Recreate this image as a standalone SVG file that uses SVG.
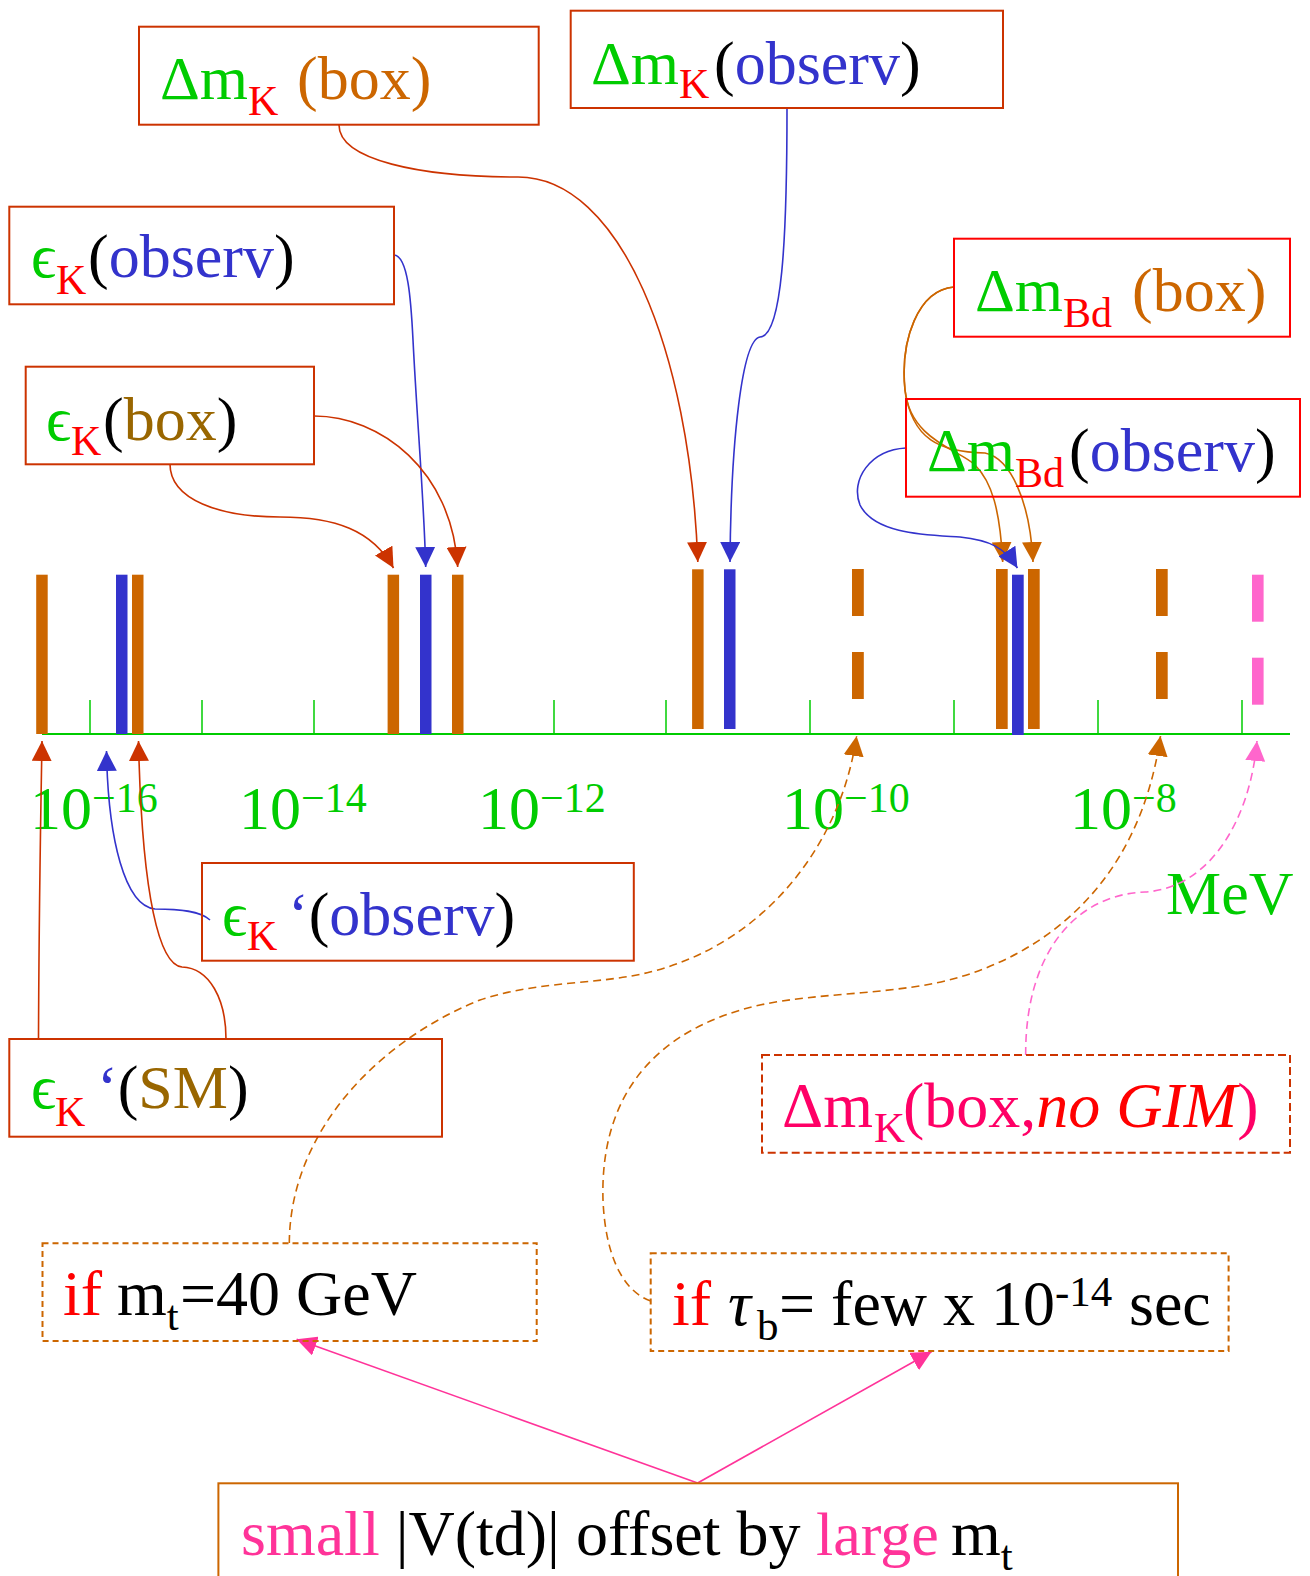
<svg xmlns="http://www.w3.org/2000/svg" width="1310" height="1576" viewBox="0 0 1310 1576">
<style>
text{font-family:"Liberation Serif","DejaVu Serif",serif;font-size:62px}
.s{font-size:42px}
.L{font-size:64px}
.Ls{font-size:43px}
.g{fill:#00cc00}.r{fill:#ff0000}.o{fill:#cc6600}.b{fill:#3333cc}.k{fill:#000}.br{fill:#996600}.pk{fill:#ff3399}.pr{fill:#ff0066}
.box{fill:none;stroke:#cc3300;stroke-width:2}
.boxr{fill:none;stroke:#ff0000;stroke-width:2}
.boxd{fill:none;stroke:#cc3300;stroke-width:2;stroke-dasharray:8 4}
.boxo{fill:none;stroke:#cc6600;stroke-width:2;stroke-dasharray:6 4}
.boxos{fill:none;stroke:#cc6600;stroke-width:2}
.c{fill:none;stroke-width:1.6}
.cr{stroke:#cc3300}.cb{stroke:#3333cc}.co{stroke:#cc6600}.cp{stroke:#ff66cc}.cpk{stroke:#ff3399}
.dash{stroke-dasharray:8 5}
.bo{fill:#cc6600}.bb{fill:#3333cc}.bp{fill:#ff66cc}
</style>
<defs>
<marker id="ar" markerUnits="userSpaceOnUse" viewBox="0 0 20 20" markerWidth="20" markerHeight="20" refX="20" refY="10" orient="auto"><path d="M0,0 L20,10 L0,20 Z" fill="#cc3300"/></marker>
<marker id="ab" markerUnits="userSpaceOnUse" viewBox="0 0 20 20" markerWidth="20" markerHeight="20" refX="20" refY="10" orient="auto"><path d="M0,0 L20,10 L0,20 Z" fill="#3333cc"/></marker>
<marker id="ao" markerUnits="userSpaceOnUse" viewBox="0 0 20 20" markerWidth="20" markerHeight="20" refX="20" refY="10" orient="auto"><path d="M0,0 L20,10 L0,20 Z" fill="#cc6600"/></marker>
<marker id="ap" markerUnits="userSpaceOnUse" viewBox="0 0 20 20" markerWidth="20" markerHeight="20" refX="20" refY="10" orient="auto"><path d="M0,0 L20,10 L0,20 Z" fill="#ff66cc"/></marker>
<marker id="apk" markerUnits="userSpaceOnUse" viewBox="0 0 20 20" markerWidth="20" markerHeight="20" refX="20" refY="10" orient="auto"><path d="M0,0 L20,10 L0,20 Z" fill="#ff3399"/></marker>
</defs>

<g id="axis">
<line x1="42" y1="734" x2="1290" y2="734" stroke="#00cc00" stroke-width="2"/>
<g stroke="#00cc00" stroke-width="1.5">
<line x1="90" y1="700" x2="90" y2="734"/><line x1="202" y1="700" x2="202" y2="734"/><line x1="314" y1="700" x2="314" y2="734"/>
<line x1="554" y1="700" x2="554" y2="734"/><line x1="666" y1="700" x2="666" y2="734"/><line x1="810" y1="700" x2="810" y2="734"/>
<line x1="954" y1="700" x2="954" y2="734"/><line x1="1098" y1="700" x2="1098" y2="734"/><line x1="1242" y1="700" x2="1242" y2="734"/>
</g>
<text class="g" x="30" y="829">10<tspan class="s" dy="-17">−16</tspan></text>
<text class="g" x="239" y="829">10<tspan class="s" dy="-17">−14</tspan></text>
<text class="g" x="478" y="829">10<tspan class="s" dy="-17">−12</tspan></text>
<text class="g" x="782" y="829">10<tspan class="s" dy="-17">−10</tspan></text>
<text class="g" x="1070" y="829">10<tspan class="s" dy="-17">−8</tspan></text>
<text class="g" x="1166" y="914">MeV</text>
</g>

<g id="bars">
<rect class="bo" x="36.2" y="574.7" width="11.5" height="159.3"/>
<rect class="bb" x="116" y="574.7" width="11.5" height="159.3"/>
<rect class="bo" x="132" y="574.7" width="11.5" height="159.3"/>
<rect class="bo" x="387.6" y="574.7" width="11.5" height="159.3"/>
<rect class="bb" x="420" y="574.7" width="11.5" height="159.3"/>
<rect class="bo" x="452" y="574.7" width="11.5" height="159.3"/>
<rect class="bo" x="692.1" y="569.3" width="11.5" height="159.7"/>
<rect class="bb" x="724" y="569.3" width="11.5" height="159.7"/>
<rect class="bo" x="852" y="569" width="11.8" height="47"/>
<rect class="bo" x="852" y="652" width="11.8" height="47"/>
<rect class="bo" x="996" y="569" width="11.7" height="160"/>
<rect class="bb" x="1012" y="574.7" width="11.7" height="160.3"/>
<rect class="bo" x="1028" y="569" width="11.7" height="160"/>
<rect class="bo" x="1156" y="569" width="11.7" height="47"/>
<rect class="bo" x="1156" y="652" width="11.7" height="47"/>
<rect class="bp" x="1252" y="574.7" width="11.6" height="47"/>
<rect class="bp" x="1252" y="657.7" width="11.6" height="47"/>
</g>

<g id="connectors">
<path class="c cr" d="M339,125 C339,160 420,177 518,177 C620,177 690,350 697.8,562" marker-end="url(#ar)"/>
<path class="c cb" d="M787,108 C787,240 782,336 760,337 C742,340 731,440 730,562" marker-end="url(#ab)"/>
<path class="c cb" d="M394,255 C408,256 411,300 413,340 C417,420 424,500 425.7,567" marker-end="url(#ab)"/>
<path class="c cr" d="M314,416 C380,416 452,470 457.7,567" marker-end="url(#ar)"/>
<path class="c cr" d="M170,464 C170,500 220,517 280,517 C335,517 372,530 393.5,568" marker-end="url(#ar)"/>
<path class="c co" d="M954,287 C918,290 900,340 905,390 C910,440 960,450 975,465 C992,482 1000,510 1002.7,562" marker-end="url(#ao)"/>
<path class="c co" d="M954,287 C918,290 900,340 905,390 C912,440 940,452 985,453 C1010,458 1030,500 1033,562" marker-end="url(#ao)"/>
<path class="c cb" d="M906,448 C870,450 850,480 860,505 C875,535 930,535 960,537 C990,540 1005,548 1017.4,568" marker-end="url(#ab)"/>
<path class="c cb" d="M210,920 C200,911 180,909 155,909 C125,906 108,840 106.5,751" marker-end="url(#ab)"/>
<path class="c cr" d="M38.5,1039 C39,900 41,800 42,741" marker-end="url(#ar)"/>
<path class="c cr" d="M226,1039 C226,1000 210,968 182,967 C160,965 142,900 138.5,741" marker-end="url(#ar)"/>
<path class="c cp dash" d="M1025.7,1055 C1025,960 1070,895 1145,892 C1210,888 1250,820 1257,741" marker-end="url(#ap)"/>
<path class="c co dash" d="M289.3,1243 C290,1130 380,1040 480,1000 C540,980 600,985 650,972 C760,945 840,850 856.6,736" marker-end="url(#ao)"/>
<path class="c co dash" d="M650.7,1301 C620,1290 605,1250 603,1200 C600,1100 650,1030 760,1005 C820,992 900,995 960,977 C1050,950 1140,880 1160.5,736" marker-end="url(#ao)"/>
<path class="c cpk" d="M697.6,1483 L296.6,1339.3" marker-end="url(#apk)"/>
<path class="c cpk" d="M697.6,1483 L931.5,1351.7" marker-end="url(#apk)"/>
</g>

<g id="dmK-box">
<rect class="box" x="139" y="26.7" width="399.7" height="98"/>
<text x="160" y="99"><tspan class="g">Δm</tspan><tspan class="s r" y="115">K</tspan><tspan class="o" x="297" y="99">(box)</tspan></text>
</g>
<g id="dmK-observ">
<rect class="box" x="570.7" y="10.7" width="432.3" height="97.3"/>
<text x="591" y="84"><tspan class="g">Δm</tspan><tspan class="s r" y="98">K</tspan><tspan class="k" x="714" y="84">(</tspan><tspan class="b">observ</tspan><tspan class="k">)</tspan></text>
</g>
<g id="epsK-observ">
<rect class="box" x="9.3" y="206.7" width="384.7" height="97.6"/>
<text x="31" y="277"><tspan class="g">ϵ</tspan><tspan class="s r" x="56" y="294">K</tspan><tspan class="k" x="88" y="277">(</tspan><tspan class="b">observ</tspan><tspan class="k">)</tspan></text>
</g>
<g id="epsK-box">
<rect class="box" x="25.7" y="366.7" width="288.3" height="97.6"/>
<text x="46" y="440"><tspan class="g">ϵ</tspan><tspan class="s r" x="71" y="455">K</tspan><tspan class="k" x="103" y="440">(</tspan><tspan class="br">box</tspan><tspan class="k">)</tspan></text>
</g>
<g id="dmBd-box">
<rect class="boxr" x="954" y="238.7" width="336" height="98"/>
<text x="975" y="310.7"><tspan class="g">Δm</tspan><tspan class="s r" y="326.7">Bd</tspan><tspan class="o" x="1132" y="310.7">(box)</tspan></text>
</g>
<g id="dmBd-observ">
<rect class="boxr" x="906" y="399" width="394" height="97.7"/>
<text x="927" y="470.7"><tspan class="g">Δm</tspan><tspan class="s r" y="486.7">Bd</tspan><tspan class="k" x="1069" y="470.7">(</tspan><tspan class="b">observ</tspan><tspan class="k">)</tspan></text>
</g>
<g id="epsKp-observ">
<rect class="box" x="202" y="863" width="431.8" height="97.7"/>
<text x="222" y="935"><tspan class="g">ϵ</tspan><tspan class="s r" x="247" y="950">K</tspan><tspan class="b" x="288" y="935">‘</tspan><tspan class="k">(</tspan><tspan class="b">observ</tspan><tspan class="k">)</tspan></text>
</g>
<g id="epsKp-SM">
<rect class="box" x="9.3" y="1039" width="432.7" height="97.7"/>
<text x="31" y="1108"><tspan class="g">ϵ</tspan><tspan class="s r" x="55" y="1126">K</tspan><tspan class="b" x="97" y="1108">‘</tspan><tspan class="k">(</tspan><tspan class="br">SM</tspan><tspan class="k">)</tspan></text>
</g>
<g id="dmK-noGIM">
<rect class="boxd" x="762" y="1055" width="528" height="97.7"/>
<text class="L" x="782" y="1127"><tspan class="pr">Δm</tspan><tspan class="Ls pr" x="874" y="1142">K</tspan><tspan class="pr" x="903" y="1127">(box,</tspan><tspan class="r" font-style="italic">no GIM</tspan><tspan class="pr">)</tspan></text>
</g>
<g id="if-mt">
<rect class="boxo" x="42.5" y="1243.3" width="494.2" height="97.7"/>
<text class="L" x="63" y="1315"><tspan class="r">if</tspan><tspan class="k" x="117">m</tspan><tspan class="Ls k" y="1330">t</tspan><tspan class="k" x="180" y="1315">=40 GeV</tspan></text>
</g>
<g id="if-taub">
<rect class="boxo" x="650.7" y="1253.3" width="577.9" height="97.7"/>
<text class="L" x="672" y="1325"><tspan class="r">if</tspan><tspan class="k" x="728" font-style="italic">τ</tspan><tspan class="Ls k" x="757" y="1340">b</tspan><tspan class="k" x="779" y="1325">= few x 10</tspan><tspan class="Ls k" y="1306">-14</tspan><tspan class="k" x="1129" y="1325">sec</tspan></text>
</g>
<g id="small-vtd">
<rect class="boxos" x="218.4" y="1483.3" width="959.6" height="110"/>
<text class="L" x="241" y="1555"><tspan class="pk">small</tspan><tspan class="k"> |V(td)| offset by </tspan><tspan class="pk" x="816" font-size="62">large</tspan><tspan class="k" x="951">m</tspan><tspan class="Ls k" y="1570">t</tspan></text>
</g>
</svg>
